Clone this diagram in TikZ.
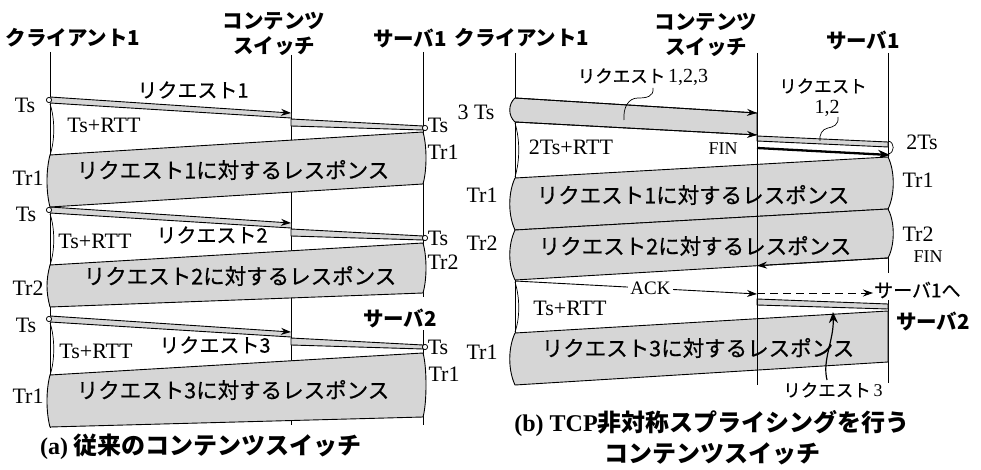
\documentclass[tikz,border=0pt]{standalone}
\usepackage{fontspec}
\setmainfont{Liberation Serif}
\newfontfamily\jp{Noto Sans CJK JP}
\newfontfamily\jpm{Noto Sans CJK JP}[FakeBold=0.6]
\usetikzlibrary{arrows.meta}
\begin{document}
\begin{tikzpicture}[x=1pt,y=-1pt,
  life/.style={line width=0.9pt},
  band/.style={fill=black!16, draw=black, line width=0.9pt, line join=round},
  edge/.style={line width=0.9pt},
  arr/.style={line width=0.9pt, -{Stealth[length=10pt,width=7pt]}},
  brk/.style={line width=0.7pt},
  hdr/.style={font=\jp\bfseries\fontsize{20.5}{25}\selectfont, align=center, inner sep=0pt},
  rsp/.style={font=\jpm\fontsize{21.5}{22}\selectfont, inner sep=0pt},
  jmd/.style={font=\jpm\fontsize{20}{22}\selectfont, inner sep=0pt},
  jsm/.style={font=\jpm\fontsize{17.5}{18}\selectfont, inner sep=0pt},
  ser/.style={font=\fontsize{22}{22}\selectfont, inner sep=0pt},
  sersm/.style={font=\fontsize{18}{18}\selectfont, inner sep=0pt},
  capt/.style={font=\bfseries\fontsize{24}{31}\selectfont, align=center, inner sep=0pt},
]
\useasboundingbox (0,0) rectangle (981,470);

%%%%%%%%%%%%%%%% (a) left panel %%%%%%%%%%%%%%%%
\coordinate (aC0) at (50,52);  \coordinate (aC1) at (50,428);
\coordinate (aS0) at (291,55); \coordinate (aS1) at (291,425);
\coordinate (aV0) at (423,52); \coordinate (aV1) at (423,297);
\coordinate (aW0) at (423,330); \coordinate (aW1) at (423,425);
\draw[life] (aC0) -- (aC1);
\draw[life] (aS0) -- (aS1);
\draw[life] (aV0) -- (aV1);
\draw[life] (aW0) -- (aW1);

% requests
\foreach \i/\y in {1/99,2/209,3/318}{
  \coordinate (aq\i s) at (50,\y-2);
  \coordinate (aq\i t) at (291,\y+14);
  \fill[black!16] (50,\y-2) -- (291,\y+14) -- (291,\y+19) -- (50,\y+4) -- cycle;
  \draw[edge] (50,\y+4) -- (291,\y+19);
  \draw[arr] (aq\i s) -- (aq\i t);
  \filldraw[band] (291,\y+20) -- (423,\y+27) -- (423,\y+31) -- (291,\y+27) -- cycle;
  \draw[line width=0.8pt, fill=white] (49,\y+1) circle (2.6);
  \draw[line width=0.8pt, fill=white] (425,\y+29) circle (2.6);
}
% responses
\foreach \a/\b/\c/\d in {132/155/184/207, 243/265/293/307, 353/375/417/427}{
  \filldraw[band] (423,\a) -- (50,\b) .. controls (46,\b+15) and (46,\d-15) .. (50,\d)
     -- (423,\c) .. controls (427,\c-14) and (427,\a+14) .. cycle;
}
% Ts+RTT lens on client line
\foreach \p/\q in {104/155, 214/265, 323/375}{
  \draw[brk] (50,\p) .. controls (55,\p+14) and (55,\q-14) .. (50,\q);
}

% headers
\node[hdr] (hA1) at (73,38) {クライアント1};
\node[hdr] (hA2) at (274,34) {コンテンツ\\スイッチ};
\node[hdr] (hA3) at (410,38) {サーバ1};
\node[hdr] (hA4) at (400,318) {サーバ2};

% labels
\node[ser] (la1) at (25,105) {Ts};
\node[ser] (la2) at (104,125) {Ts+RTT};
\node[jmd] (la3) at (193,90) {リクエスト1};
\node[ser] (la4) at (438,125) {Ts};
\node[ser] (la5) at (443,152) {Tr1};
\node[rsp] (la6) at (233,170) {リクエスト1に対するレスポンス};
\node[ser] (la7) at (28,178) {Tr1};
\node[ser] (la8) at (26,214) {Ts};
\node[ser] (la9) at (95,241) {Ts+RTT};
\node[jmd] (la10) at (212,235) {リクエスト2};
\node[ser] (la11) at (438,238) {Ts};
\node[ser] (la12) at (443,262) {Tr2};
\node[rsp] (la13) at (240,276) {リクエスト2に対するレスポンス};
\node[ser] (la14) at (28,288) {Tr2};
\node[ser] (la15) at (26,325) {Ts};
\node[jmd] (la16) at (215,345) {リクエスト3};
\node[ser] (la17) at (96,351) {Ts+RTT};
\node[ser] (la18) at (438,347) {Ts};
\node[ser] (la19) at (444,374) {Tr1};
\node[rsp] (la20) at (233,390) {リクエスト3に対するレスポンス};
\node[ser] (la21) at (28,396) {Tr1};
\node[capt] (capA) at (201,447) {(a) {\jp 従来のコンテンツスイッチ}};

%%%%%%%%%%%%%%%% (b) right panel %%%%%%%%%%%%%%%%
\coordinate (bC0) at (515,53);  \coordinate (bC1) at (515,385);
\coordinate (bS0) at (757,53);  \coordinate (bS1) at (757,385);
\coordinate (bV0) at (888,53);  \coordinate (bV1) at (888,273);
\coordinate (bW0) at (888,300); \coordinate (bW1) at (888,383);
\draw[life] (bC0) -- (bC1);
\draw[life] (bV0) -- (bV1);
\draw[life] (bW0) -- (bW1);

% request 1,2,3 band
\filldraw[band] (515,98) -- (757,113) -- (757,135) -- (515,122) .. controls (508,116) and (508,104) .. cycle;
\coordinate (bq0) at (515,98);  \coordinate (bq1) at (757,113);
\coordinate (bq2) at (515,122); \coordinate (bq3) at (757,135);
\draw[arr] (bq0) -- (bq1);
\draw[arr] (bq2) -- (bq3);
% request 1,2 band
\filldraw[band] (757,136) -- (888,142) -- (888,147) -- (757,141) -- cycle;
\draw[brk] (888,141) .. controls (895,142) and (895,153) .. (888,154);
% FIN thick
\coordinate (bf0) at (757,148); \coordinate (bf1) at (890,155);
\draw[line width=2.3pt, -{Stealth[length=12pt,width=9pt]}] (bf0) -- (bf1);
% responses
\filldraw[band] (888,157) -- (515,178) .. controls (508,193) and (508,215) .. (515,230)
   -- (888,209) .. controls (895,195) and (895,171) .. cycle;
\filldraw[band] (888,209) -- (515,230) .. controls (508,245) and (508,265) .. (515,280)
   -- (888,258) .. controls (895,245) and (895,222) .. cycle;
\coordinate (bR0) at (888,258); \coordinate (bR1) at (757,265.7);
\draw[arr] (bR0) -- (bR1);
% ACK
\coordinate (bk0) at (515,281); \coordinate (bk1) at (757,294);
\draw[arr] (bk0) -- node[pos=0.56, fill=white, inner sep=2pt, font=\fontsize{19}{19}\selectfont] (ack) {ACK} (bk1);
\coordinate (bd0) at (757,293); \coordinate (bd1) at (873,293);
\draw[arr, dash pattern=on 8pt off 5pt] (bd0) -- (bd1);
\node[font=\jpm\fontsize{19}{20}\selectfont, inner sep=0pt, anchor=west] (toS1) at (874,290) {サーバ1へ};
% request 3 band
\filldraw[band] (757,299) -- (888,304) -- (888,309) -- (757,305) -- cycle;
% response 3
\filldraw[band] (888,311) -- (515,333) .. controls (508,348) and (508,370) .. (515,385) -- (888,362) -- cycle;
% switch line on top
\draw[life] (bS0) -- (bS1);
% lenses
\draw[brk] (515,123) .. controls (520,140) and (520,160) .. (515,177);
\draw[brk] (515,282) .. controls (520,298) and (520,318) .. (515,332);

% leader curls
\coordinate (lc0) at (653,88); \coordinate (lc1) at (624,120);
\draw[brk] (lc0) .. controls (654,97) and (646,98) .. (638,98) .. controls (628,98) and (623,108) .. (lc1);
\coordinate (lc2) at (838,117); \coordinate (lc3) at (820,141);
\draw[brk] (lc2) .. controls (839,125) and (833,127) .. (828,128) .. controls (822,129) and (819,135) .. (lc3);
\coordinate (lu0) at (827,380); \coordinate (lu1) at (833,312);
\draw[line width=1.2pt, -{Stealth[length=11pt,width=9pt]}] (lu0) .. controls (822,360) and (834,340) .. (lu1);

% headers
\node[hdr] (hB1) at (522,38) {クライアント1};
\node[hdr] (hB2) at (706,35) {コンテンツ\\スイッチ};
\node[hdr] (hB3) at (863,40) {サーバ1};
\node[hdr] (hB4) at (933,321) {サーバ2};

% labels
\node[jsm] (lb1) at (643,77) {リクエスト\,{\rmfamily\fontsize{20}{20}\selectfont 1,2,3}};
\node[ser] (lb2) at (476,112) {3 Ts};
\node[ser] (lb3) at (571,147) {2Ts+RTT};
\node[sersm] (lb4) at (723,149) {FIN};
\node[jsm] (lb5) at (823,86) {リクエスト};
\node[font=\fontsize{20}{20}\selectfont, inner sep=0pt] (lb6) at (827,108) {1,2};
\node[ser] (lb7) at (922,142) {2Ts};
\node[rsp] (lb8) at (693,195) {リクエスト1に対するレスポンス};
\node[rsp] (lb9) at (695,246) {リクエスト2に対するレスポンス};
\node[ser] (lb10) at (482,195) {Tr1};
\node[ser] (lb11) at (482,243) {Tr2};
\node[ser] (lb12) at (918,180) {Tr1};
\node[ser] (lb13) at (918,234) {Tr2};
\node[sersm] (lb14) at (928,257) {FIN};
\node[ser] (lb15) at (570,308) {Ts+RTT};
\node[rsp] (lb16) at (698,348) {リクエスト3に対するレスポンス};
\node[ser] (lb17) at (482,352) {Tr1};
\node[jsm] (lb18) at (833,390) {リクエスト\,{\rmfamily\fontsize{18}{18}\selectfont 3}};
\node[capt] (capB) at (712,438) {(b) TCP{\jp 非対称スプライシングを行う}\\{\jp コンテンツスイッチ}};
\end{tikzpicture}
\end{document}
